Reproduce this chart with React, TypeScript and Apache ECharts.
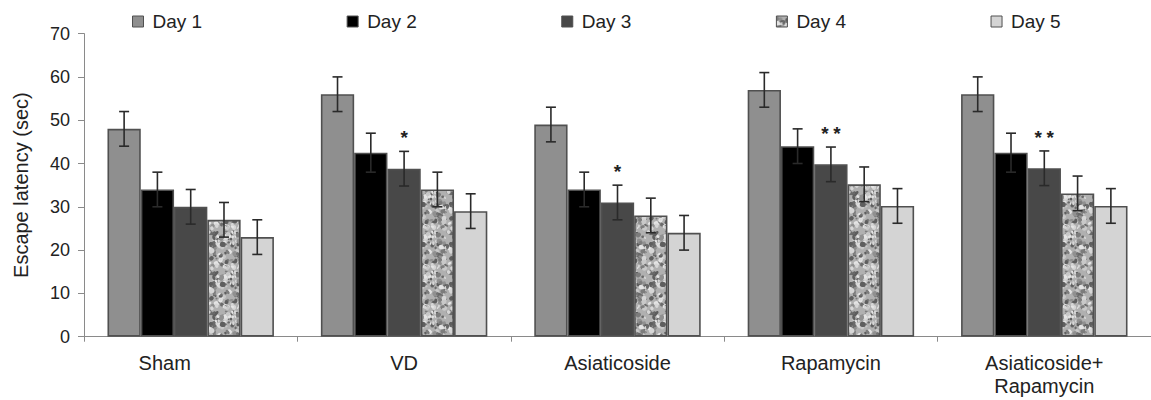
import React, { useEffect, useRef } from 'react';
import * as echarts from 'echarts';

const categories = ['Sham', 'VD', 'Asiaticoside', 'Rapamycin', 'Asiaticoside+\nRapamycin'];
const seriesNames = ['Day 1', 'Day 2', 'Day 3', 'Day 4', 'Day 5'];
const day1 = [48, 56, 49, 57, 56];
const day2 = [34, 42.5, 34, 44, 42.5];
const day3 = [30, 38.8, 31, 39.8, 38.9];
const day4 = [27, 34, 28, 35.2, 33.1];
const day5 = [23, 29, 24, 30.2, 30.2];
const err1 = [4, 4, 4, 4, 4];
const err2 = [4, 4.5, 4, 4, 4.5];
const err3 = [4, 4, 4, 4, 4];
const err4 = [4, 4, 4, 4, 4];
const err5 = [4, 4, 4, 4, 4];
const significance = ['', '*', '*', '**', '**'];
const yMin = 0;
const yMax = 70;
const yInterval = 10;

const FONT = '"Liberation Sans", Arial, sans-serif';

function makeGranite(): HTMLCanvasElement {
  const size = 40;
  const c = document.createElement('canvas');
  c.width = size;
  c.height = size;
  const ctx = c.getContext('2d')!;
  ctx.fillStyle = '#b0b0b0';
  ctx.fillRect(0, 0, size, size);
  try {
    (ctx as any).filter = 'blur(0.6px)';
  } catch (e) {
    /* ignore */
  }
  let s = 9871;
  const rnd = () => {
    s = (s * 1103515245 + 12345) % 2147483648;
    return s / 2147483648;
  };
  const shades = ['#5e5e5e', '#7c7c7c', '#d6d6d6', '#e4e4e4', '#909090', '#c8c8c8', '#6a6a6a'];
  for (let i = 0; i < 160; i++) {
    const x = rnd() * size;
    const y = rnd() * size;
    const r = 0.9 + rnd() * 1.8;
    const ry = r * (0.5 + rnd() * 0.7);
    const rot = rnd() * 3;
    ctx.fillStyle = shades[Math.floor(rnd() * shades.length)];
    for (const dx of [-size, 0, size]) {
      for (const dy of [-size, 0, size]) {
        ctx.beginPath();
        ctx.ellipse(x + dx, y + dy, r, ry, rot, 0, Math.PI * 2);
        ctx.fill();
      }
    }
  }
  return c;
}

export default function App() {
  const ref = useRef<HTMLDivElement>(null);
  useEffect(() => {
    if (!ref.current) return;
    const chart = echarts.init(ref.current, undefined, { renderer: 'svg' });
    const granite = makeGranite();
    const colors: any[] = ['#8f8f8f', '#000000', '#484848', { image: granite, repeat: 'repeat' }, '#d4d4d4'];
    const values = [day1, day2, day3, day4, day5];
    const errs = [err1, err2, err3, err4, err5];

    const errData: number[][] = [];
    values.forEach((arr, d) => {
      arr.forEach((v, c) => {
        errData.push([c, d, v, errs[d][c]]);
      });
    });

    const barSeries = values.map((arr, d) => ({
      name: seriesNames[d],
      type: 'bar',
      data: arr,
      barGap: '0%',
      barCategoryGap: '22%',
      itemStyle: {
        color: colors[d],
        borderColor: '#505050',
        borderWidth: 1.6,
      },
    }));

    const option: any = {
      animation: false,
      legend: {
        data: seriesNames,
        left: 127,
        top: 7,
        itemWidth: 11,
        itemHeight: 11,
        itemGap: 144.5,
        icon: 'rect',
        itemStyle: { borderColor: '#505050', borderWidth: 1 },
        textStyle: { fontSize: 19, fontFamily: FONT, color: '#222', padding: [0, 0, 0, 4] },
      },
      grid: { left: 84, right: -8, top: 33.6, bottom: 63.3 },
      xAxis: {
        type: 'category',
        data: categories,
        axisLine: { lineStyle: { color: '#8a8a8a', width: 1 } },
        axisTick: { show: true, length: 5, lineStyle: { color: '#8a8a8a' } },
        axisLabel: {
          margin: 15,
          fontSize: 20,
          lineHeight: 23,
          fontFamily: FONT,
          color: '#222',
          interval: 0,
          formatter: (v: string) => (v === 'Sham' ? '{s|Sham}' : v),
          rich: {
            s: { padding: [0, 52, 0, 0], fontSize: 20, fontFamily: FONT, color: '#222', lineHeight: 23 },
          },
        },
      },
      yAxis: {
        type: 'value',
        min: yMin,
        max: yMax,
        interval: yInterval,
        name: 'Escape latency (sec)',
        nameLocation: 'middle',
        nameGap: 53,
        nameTextStyle: { fontSize: 20, fontFamily: FONT, color: '#222' },
        axisLine: { show: true, lineStyle: { color: '#8a8a8a', width: 1 } },
        axisTick: { show: true, length: 6, lineStyle: { color: '#8a8a8a' } },
        splitLine: { show: false },
        axisLabel: { margin: 14, fontSize: 18, fontFamily: FONT, color: '#222' },
      },
      series: [
        ...barSeries,
        {
          type: 'custom',
          name: 'errors',
          z: 5,
          data: errData,
          encode: { x: 0, y: 2 },
          renderItem: (params: any, api: any) => {
            const cat = api.value(0) as number;
            const day = api.value(1) as number;
            const v = api.value(2) as number;
            const e = api.value(3) as number;
            const band = (api.size([1, 0]) as number[])[0];
            const barW = (band * 0.78) / 5;
            const base = api.coord([cat, v]);
            const x = base[0] + (day - 2) * barW;
            const yT = api.coord([cat, v + e])[1];
            const yB = api.coord([cat, v - e])[1];
            const style = { stroke: '#2a2a2a', lineWidth: 1.6 };
            const children: any[] = [
              { type: 'line', shape: { x1: x, y1: yT, x2: x, y2: yB }, style },
              { type: 'line', shape: { x1: x - 5, y1: yT, x2: x + 5, y2: yT }, style },
              { type: 'line', shape: { x1: x - 5, y1: yB, x2: x + 5, y2: yB }, style },
            ];
            const sig = significance[cat];
            if (day === 2 && sig) {
              const chars = sig.split('');
              chars.forEach((ch, i) => {
                children.push({
                  type: 'text',
                  style: {
                    text: ch,
                    x: x + (i - (chars.length - 1) / 2) * 12,
                    y: yT - 4,
                    align: 'center',
                    verticalAlign: 'bottom',
                    font: `bold 19px ${FONT}`,
                    fill: '#222',
                  },
                });
              });
            }
            return { type: 'group', children };
          },
        },
      ],
    };
    chart.setOption(option);
    return () => chart.dispose();
  }, []);
  return (
    <div
      ref={ref}
      style={{ position: 'fixed', left: 0, top: 0, width: 1151, height: 400, background: '#fff' }}
    />
  );
}
